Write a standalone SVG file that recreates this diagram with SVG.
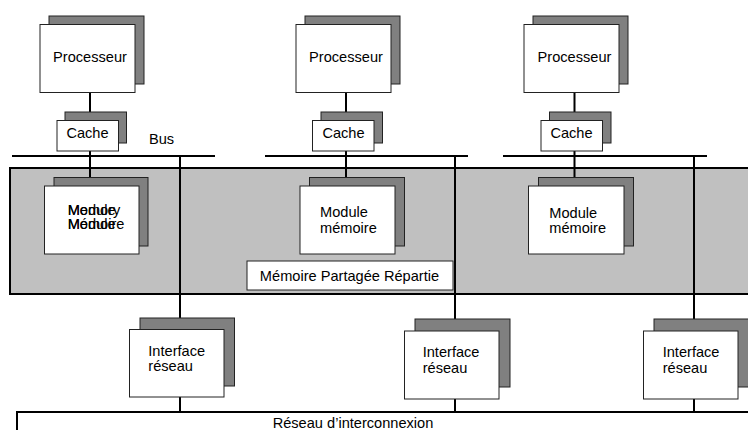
<svg xmlns="http://www.w3.org/2000/svg" width="748" height="430" viewBox="0 0 748 430">
<style>
text{font-family:"Liberation Sans",Arial,sans-serif;font-size:14.6px;fill:#000}
.c{text-anchor:middle}
.sh{fill:#808080;stroke:#222;stroke-width:1}
.fr{fill:#fff;stroke:#222;stroke-width:1}
.ln{stroke:#000;stroke-width:2;fill:none}
</style>
<rect id="memoire-partagee" x="10" y="168" width="760" height="126" fill="#c0c0c0" stroke="#000" stroke-width="2"/>
<g id="connectors" class="ln">
<path d="M90 92V120M90 151V178M12 156H215M180 156V318M180 397V412"/>
<path d="M346 92V120M346 151V178M265 156H468M455 156V319M455 399V412"/>
<path d="M574.5 92V120M574.5 151V178M503 156H707M694 156V319M694 399V412"/>
<path d="M17 430V412H748"/>
</g>
<g id="proc1"><rect class="sh" x="49" y="16" width="95" height="68"/><rect class="fr" x="40" y="24.5" width="95" height="68"/><text class="c" x="90" y="62">Processeur</text></g>
<g id="proc2"><rect class="sh" x="305" y="16" width="95" height="68"/><rect class="fr" x="296" y="24.5" width="95" height="68"/><text class="c" x="346" y="62">Processeur</text></g>
<g id="proc3"><rect class="sh" x="533" y="16" width="95" height="68"/><rect class="fr" x="524" y="24.5" width="95" height="68"/><text class="c" x="574.5" y="62">Processeur</text></g>
<g id="cache1"><rect class="sh" x="65" y="112" width="61.5" height="31"/><rect class="fr" x="57" y="120.5" width="61.5" height="30.5"/><text class="c" x="87.5" y="138">Cache</text></g>
<g id="cache2"><rect class="sh" x="321" y="112" width="61.5" height="31"/><rect class="fr" x="312.5" y="120.5" width="61.5" height="30.5"/><text class="c" x="343.5" y="138">Cache</text></g>
<g id="cache3"><rect class="sh" x="549.5" y="112" width="61.5" height="31"/><rect class="fr" x="541" y="120.5" width="61.5" height="30.5"/><text class="c" x="571.5" y="138">Cache</text></g>
<g id="bus-label"><text x="149" y="144">Bus</text></g>
<g id="mod1"><rect class="sh" x="54" y="177.5" width="94" height="68.5"/><rect class="fr" x="44.5" y="186" width="94.5" height="68"/><text x="67.7" y="214.5">Module</text><text x="67.7" y="214.5">Memory</text><text x="67.7" y="228.5">Mémoire</text><text x="67.7" y="228.5">Module</text></g>
<g id="mod2"><rect class="sh" x="309.5" y="177.5" width="95" height="68.5"/><rect class="fr" x="300" y="186" width="95" height="68"/><text x="320" y="217">Module</text><text x="320" y="232.5">mémoire</text></g>
<g id="mod3"><rect class="sh" x="538.5" y="177.5" width="95" height="68.5"/><rect class="fr" x="528.5" y="186" width="95.5" height="68"/><text x="549.3" y="218">Module</text><text x="549.3" y="232.7">mémoire</text></g>
<g id="mpr-label"><rect x="247" y="261" width="206" height="29" fill="#fff" stroke="#222" stroke-width="1"/><text class="c" x="349.5" y="281">Mémoire Partagée Répartie</text></g>
<g id="if1"><rect class="sh" x="140" y="318" width="94.5" height="68"/><rect class="fr" x="129.5" y="329.5" width="94.5" height="67.5"/><text x="148.3" y="356">Interface</text><text x="148.3" y="370.7">réseau</text></g>
<g id="if2"><rect class="sh" x="415" y="319" width="95" height="68"/><rect class="fr" x="404.5" y="331" width="94.5" height="68"/><text x="422.7" y="357.3">Interface</text><text x="422.7" y="372.7">réseau</text></g>
<g id="if3"><rect class="sh" x="654" y="319" width="95" height="68"/><rect class="fr" x="643.5" y="331" width="94.5" height="68"/><text x="662.7" y="357">Interface</text><text x="662.7" y="372.5">réseau</text></g>
<g id="net-label"><text class="c" x="353" y="428">Réseau d’interconnexion</text></g>
</svg>
